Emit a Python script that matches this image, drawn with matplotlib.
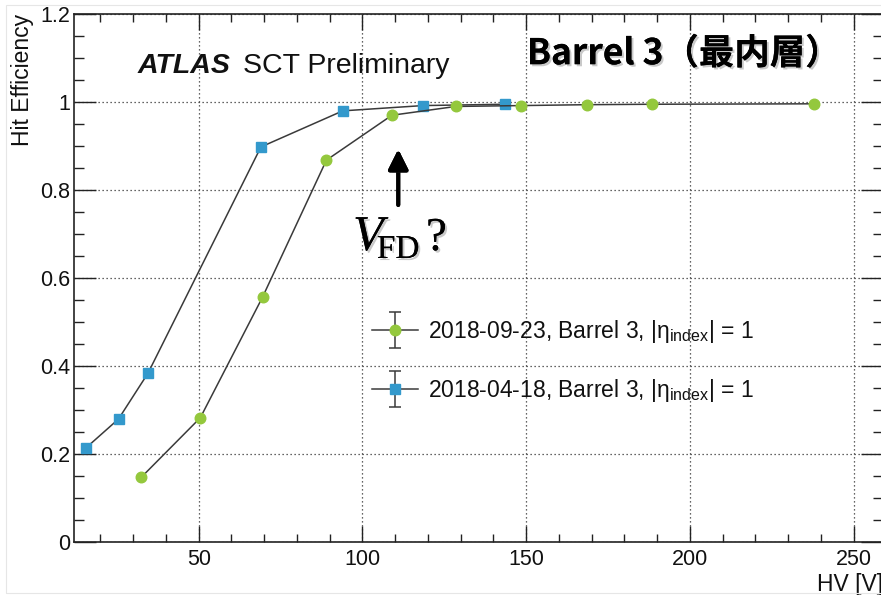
import matplotlib
matplotlib.use('Agg')
import matplotlib.pyplot as plt
import matplotlib.patheffects as pe
import numpy as np
from matplotlib.patches import Rectangle
from matplotlib.ticker import MultipleLocator, FormatStrFormatter
from matplotlib.container import ErrorbarContainer
from matplotlib.legend_handler import HandlerErrorbar

#########################################################
# datos
hv_sep = [32.5, 50.5, 69.5, 89, 109, 128.5, 148.5, 168.5, 188.5, 238]
eff_sep = [0.148, 0.283, 0.557, 0.868, 0.970, 0.990, 0.992, 0.994, 0.995, 0.996]

hv_abr = [15.5, 25.5, 34.5, 69, 94, 118.5, 143.5]
eff_abr = [0.214, 0.280, 0.384, 0.898, 0.980, 0.992, 0.995]

label_sep = r'2018-09-23, Barrel 3, |η$_{\mathrm{index}}$| = 1'
label_abr = r'2018-04-18, Barrel 3, |η$_{\mathrm{index}}$| = 1'

xlim = (12, 259)
ylim = (0, 1.2)

verde = '#94c83d'
azul = '#3399cc'
linea = '#3a3a3a'

#########################################################
plt.rcParams['font.family'] = ['Liberation Sans', 'DejaVu Sans']
plt.rcParams['mathtext.fontset'] = 'custom'
plt.rcParams['mathtext.rm'] = 'Liberation Sans'
plt.rcParams['mathtext.it'] = 'Liberation Sans:italic'

W, H = 881, 595
fig = plt.figure(figsize=(W / 100, H / 100), dpi=100)

# ejes en pixeles (el borde derecho queda un poco fuera)
x0, x1 = 74.3, 883
y0, y1 = 542.3, 14
ax = fig.add_axes([x0 / W, 1 - y0 / H, (x1 - x0) / W, (y0 - y1) / H])

ax.plot(hv_abr, eff_abr, color=linea, lw=1.1, marker='s', ms=7.8,
        mfc=azul, mec=azul, zorder=3)
ax.plot(hv_sep, eff_sep, color=linea, lw=1.1, marker='o', ms=7.6,
        mfc=verde, mec=verde, zorder=3)

ax.set_xlim(*xlim)
ax.set_ylim(*ylim)

ax.xaxis.set_major_locator(MultipleLocator(50))
ax.xaxis.set_minor_locator(MultipleLocator(10))
ax.yaxis.set_major_locator(MultipleLocator(0.2))
ax.yaxis.set_minor_locator(MultipleLocator(0.05))
ax.yaxis.set_major_formatter(FormatStrFormatter('%g'))

ax.tick_params(which='both', direction='in', top=True, right=True,
               colors='#222222', labelsize=15.5, labelcolor='#111111', width=1.0)
ax.tick_params(axis='x', which='major', length=11.5, pad=5)
ax.tick_params(axis='x', which='minor', length=5.5)
ax.tick_params(axis='y', which='major', length=16, pad=3)
ax.tick_params(axis='y', which='minor', length=7.5)

for s in ax.spines.values():
    s.set_linewidth(1.2)
    s.set_color('#222222')

ax.grid(True, which='major', linestyle=(0, (1, 2.2)), color='#333333', linewidth=0.9)
ax.set_axisbelow(True)

ax.set_xlabel('HV [V]', loc='right', fontsize=16.5, color='#111111')
ax.xaxis.set_label_coords(1.0, -0.058)
ax.set_ylabel('Hit Efficiency', loc='top', fontsize=16.5, color='#111111')
ax.yaxis.set_label_coords(-0.05, 1.0)

# etiqueta ATLAS
ax.text(0.0788, 0.888, 'ATLAS', transform=ax.transAxes, fontsize=20.5,
        fontweight='bold', fontstyle='italic', va='baseline', ha='left', color='#111111')
ax.text(0.2087, 0.888, 'SCT Preliminary', transform=ax.transAxes, fontsize=20.5,
        va='baseline', ha='left', color='#111111')

# leyenda con barras de error (entradas sin datos visibles)
h_sep = ax.errorbar([np.nan], [np.nan], yerr=[0.1], color=linea, lw=1.1, marker='o',
                    ms=7.6, mfc=verde, mec=verde, capsize=4, elinewidth=1.1, capthick=1.1)
h_abr = ax.errorbar([np.nan], [np.nan], yerr=[0.1], color=linea, lw=1.1, marker='s',
                    ms=7.8, mfc=azul, mec=azul, capsize=4, elinewidth=1.1, capthick=1.1)
ax.legend([h_sep, h_abr], [label_sep, label_abr], loc='upper left',
          bbox_to_anchor=(0.368, 0.425), frameon=False, fontsize=16.5,
          handlelength=2.0, handletextpad=0.45, labelspacing=1.42,
          borderpad=0, borderaxespad=0, labelcolor='#111111',
          handler_map={ErrorbarContainer: HandlerErrorbar(xerr_size=0.5, yerr_size=0.78)})

sombra = [pe.withSimplePatchShadow(offset=(1.5, -1.5), shadow_rgbFace='#888888', alpha=0.45),
          pe.Normal()]

# titulo en japones
t = ax.text(0.5596, 0.905, 'Barrel 3（最内層）', transform=ax.transAxes,
            fontsize=25.5, fontweight='bold', va='baseline', ha='left',
            family=['Noto Sans CJK JP', 'DejaVu Sans'], color='#000000')
t.set_path_effects(sombra)

# flecha y V_FD
arr = ax.annotate('', xy=(0.4006, 0.7439), xytext=(0.4006, 0.6385),
                  xycoords='axes fraction', textcoords='axes fraction',
                  arrowprops=dict(arrowstyle='-|>,head_length=0.6,head_width=0.3',
                                  lw=2.9, color='black', mutation_scale=20,
                                  shrinkA=0, shrinkB=0))
arr.arrow_patch.set_path_effects(sombra)

for txt, x, y, size, style in [('V', 0.3446, 0.5533, 36, 'italic'),
                               ('FD', 0.3742, 0.5382, 24, 'normal'),
                               ('?', 0.4349, 0.5533, 34, 'normal')]:
    tt = ax.text(x, y, txt, transform=ax.transAxes, fontsize=size, fontstyle=style,
                 family='Liberation Serif', va='baseline', ha='left', color='black')
    tt.set_path_effects(sombra)

# marco tenue de la imagen
fig.add_artist(Rectangle((5.5 / W, 2 / H), 1.0, 1 - 7 / H, transform=fig.transFigure,
                         fill=False, edgecolor='#e6e6e6', lw=0.8))

fig.savefig('out.png', dpi=100)
